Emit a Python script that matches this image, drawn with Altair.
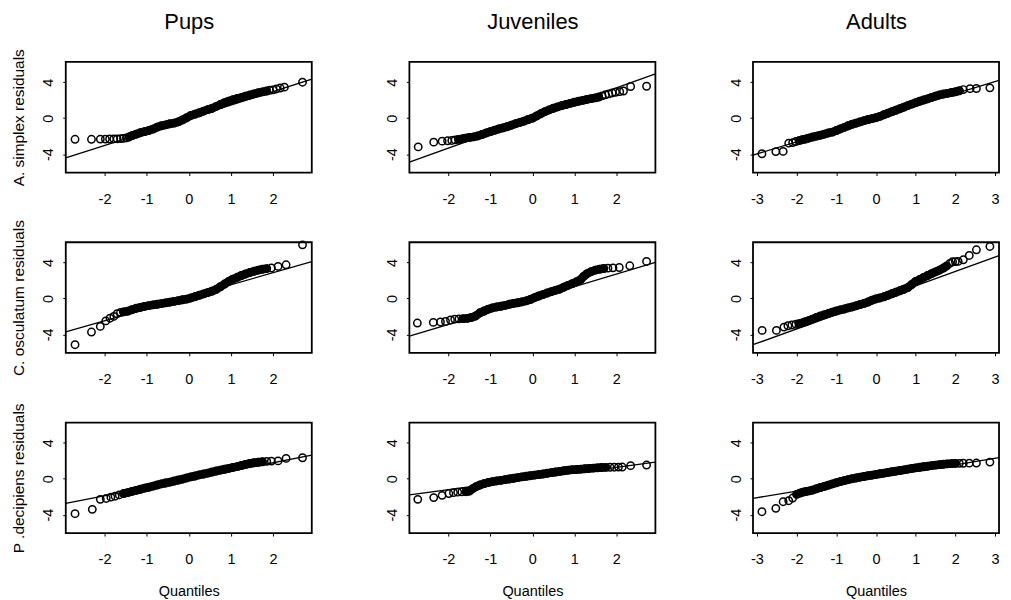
import altair as alt
import pandas as pd

# ---------------- data ----------------
groups = ["Pups", "Juveniles", "Adults"]
species_labels = ["A. simplex residuals", "C. osculatum residuals", "P .decipiens residuals"]

# theoretical quantile (q) and residual (r) pairs, one pair of lists per panel
pups_simplex_q = [-2.70, -2.31, -2.10, -1.98, -1.88, -1.78, -1.70, -1.62, -1.55, -1.48, -1.42, -1.35, -1.25, -1.15, -1.05, -0.95, -0.85, -0.75, -0.65, -0.55, -0.45, -0.35, -0.25, -0.15, -0.05, 0.05, 0.15, 0.25, 0.35, 0.45, 0.55, 0.65, 0.75, 0.85, 0.95, 1.05, 1.15, 1.25, 1.35, 1.45, 1.55, 1.65, 1.75, 1.85, 1.92, 2.00, 2.08, 2.17, 2.27, 2.70]
pups_simplex_r = [-2.35, -2.35, -2.33, -2.33, -2.32, -2.30, -2.30, -2.28, -2.25, -2.20, -2.10, -1.95, -1.78, -1.62, -1.50, -1.38, -1.22, -1.00, -0.85, -0.75, -0.63, -0.55, -0.42, -0.20, 0.05, 0.30, 0.45, 0.60, 0.78, 0.95, 1.08, 1.30, 1.52, 1.72, 1.90, 2.05, 2.18, 2.30, 2.45, 2.57, 2.70, 2.82, 2.92, 3.02, 3.10, 3.15, 3.25, 3.35, 3.45, 4.00]

juv_simplex_q = [-2.72, -2.35, -2.15, -2.02, -1.92, -1.84, -1.76, -1.68, -1.60, -1.50, -1.40, -1.30, -1.20, -1.10, -1.00, -0.90, -0.80, -0.70, -0.60, -0.50, -0.40, -0.30, -0.20, -0.10, 0.00, 0.10, 0.20, 0.30, 0.40, 0.50, 0.60, 0.70, 0.80, 0.90, 1.00, 1.10, 1.20, 1.30, 1.40, 1.50, 1.58, 1.66, 1.74, 1.82, 1.90, 1.98, 2.08, 2.17, 2.34, 2.72]
juv_simplex_r = [-3.20, -2.67, -2.56, -2.52, -2.48, -2.42, -2.36, -2.30, -2.22, -2.15, -2.08, -1.98, -1.82, -1.65, -1.50, -1.35, -1.20, -1.08, -0.95, -0.78, -0.62, -0.48, -0.33, -0.15, 0.00, 0.25, 0.50, 0.72, 0.92, 1.10, 1.25, 1.40, 1.52, 1.65, 1.77, 1.88, 1.98, 2.08, 2.17, 2.25, 2.35, 2.48, 2.60, 2.70, 2.80, 2.88, 2.95, 3.02, 3.52, 3.55]

adu_simplex_q = [-2.875, -2.525, -2.34, -2.20, -2.10, -2.02, -1.94, -1.86, -1.78, -1.70, -1.60, -1.50, -1.40, -1.30, -1.20, -1.10, -1.00, -0.90, -0.80, -0.70, -0.60, -0.50, -0.40, -0.30, -0.20, -0.10, 0.00, 0.10, 0.20, 0.30, 0.40, 0.50, 0.60, 0.70, 0.80, 0.90, 1.00, 1.10, 1.20, 1.30, 1.40, 1.50, 1.60, 1.70, 1.80, 1.90, 2.00, 2.10, 2.20, 2.37, 2.53, 2.87]
adu_simplex_r = [-3.96, -3.72, -3.70, -2.78, -2.72, -2.60, -2.50, -2.40, -2.33, -2.22, -2.10, -2.00, -1.90, -1.78, -1.65, -1.55, -1.38, -1.20, -1.02, -0.85, -0.68, -0.55, -0.42, -0.28, -0.15, -0.05, 0.05, 0.20, 0.38, 0.55, 0.72, 0.88, 1.05, 1.22, 1.40, 1.56, 1.72, 1.88, 2.02, 2.15, 2.30, 2.45, 2.58, 2.68, 2.76, 2.85, 2.93, 3.05, 3.18, 3.28, 3.30, 3.37]

pups_oscul_q = [-2.70, -2.31, -2.10, -1.97, -1.87, -1.78, -1.70, -1.62, -1.55, -1.45, -1.35, -1.25, -1.15, -1.05, -0.95, -0.85, -0.75, -0.65, -0.55, -0.45, -0.35, -0.25, -0.15, -0.05, 0.05, 0.15, 0.25, 0.35, 0.45, 0.55, 0.65, 0.75, 0.85, 0.95, 1.05, 1.15, 1.25, 1.35, 1.45, 1.55, 1.65, 1.75, 1.85, 1.96, 2.12, 2.31, 2.70]
pups_oscul_r = [-5.15, -3.74, -3.11, -2.50, -2.20, -2.00, -1.70, -1.55, -1.50, -1.42, -1.25, -1.10, -1.00, -0.88, -0.80, -0.72, -0.65, -0.58, -0.50, -0.42, -0.33, -0.25, -0.15, -0.08, 0.05, 0.20, 0.35, 0.50, 0.65, 0.80, 1.00, 1.30, 1.60, 1.90, 2.15, 2.35, 2.55, 2.72, 2.88, 3.02, 3.15, 3.25, 3.32, 3.38, 3.56, 3.74, 5.96]

juv_oscul_q = [-2.74, -2.36, -2.19, -2.07, -1.95, -1.85, -1.75, -1.65, -1.55, -1.45, -1.35, -1.25, -1.15, -1.05, -0.95, -0.85, -0.75, -0.65, -0.55, -0.45, -0.35, -0.25, -0.15, -0.05, 0.05, 0.15, 0.25, 0.35, 0.45, 0.55, 0.65, 0.75, 0.85, 0.95, 1.05, 1.15, 1.22, 1.30, 1.40, 1.50, 1.60, 1.70, 1.80, 1.92, 2.07, 2.32, 2.72]
juv_oscul_r = [-2.74, -2.67, -2.62, -2.56, -2.40, -2.30, -2.27, -2.25, -2.22, -2.12, -1.95, -1.60, -1.40, -1.20, -1.05, -0.95, -0.87, -0.77, -0.65, -0.56, -0.48, -0.38, -0.27, -0.12, 0.08, 0.27, 0.42, 0.60, 0.75, 0.90, 1.04, 1.25, 1.45, 1.65, 1.85, 2.10, 2.45, 2.75, 2.98, 3.15, 3.25, 3.33, 3.37, 3.40, 3.44, 3.63, 4.11]

adu_oscul_q = [-2.87, -2.51, -2.32, -2.22, -2.12, -2.02, -1.94, -1.86, -1.78, -1.70, -1.60, -1.50, -1.40, -1.30, -1.20, -1.10, -1.00, -0.90, -0.80, -0.70, -0.60, -0.50, -0.40, -0.30, -0.20, -0.10, 0.00, 0.10, 0.20, 0.30, 0.40, 0.50, 0.60, 0.70, 0.80, 0.90, 1.00, 1.10, 1.20, 1.30, 1.40, 1.50, 1.60, 1.70, 1.78, 1.86, 1.93, 2.00, 2.07, 2.20, 2.35, 2.53, 2.87]
adu_oscul_r = [-3.56, -3.56, -3.19, -3.04, -2.95, -2.88, -2.80, -2.72, -2.60, -2.48, -2.30, -2.12, -1.95, -1.82, -1.68, -1.52, -1.40, -1.28, -1.18, -1.05, -0.95, -0.82, -0.68, -0.55, -0.40, -0.20, -0.05, 0.05, 0.18, 0.35, 0.52, 0.68, 0.85, 1.02, 1.20, 1.55, 1.90, 2.10, 2.33, 2.55, 2.75, 2.95, 3.15, 3.38, 3.62, 3.90, 4.08, 4.10, 4.12, 4.30, 4.78, 5.41, 5.78]

pups_decip_q = [-2.70, -2.29, -2.10, -1.96, -1.85, -1.75, -1.65, -1.55, -1.45, -1.35, -1.25, -1.15, -1.05, -0.95, -0.85, -0.75, -0.65, -0.55, -0.45, -0.35, -0.25, -0.15, -0.05, 0.05, 0.15, 0.25, 0.35, 0.45, 0.55, 0.65, 0.75, 0.85, 0.95, 1.05, 1.15, 1.25, 1.35, 1.45, 1.55, 1.65, 1.75, 1.85, 1.96, 2.12, 2.31, 2.70]
pups_decip_r = [-3.89, -3.41, -2.30, -2.20, -2.05, -1.95, -1.80, -1.65, -1.55, -1.42, -1.30, -1.18, -1.05, -0.95, -0.83, -0.70, -0.58, -0.48, -0.38, -0.26, -0.15, -0.05, 0.08, 0.20, 0.30, 0.42, 0.52, 0.62, 0.74, 0.85, 0.95, 1.05, 1.15, 1.25, 1.35, 1.47, 1.60, 1.70, 1.77, 1.83, 1.88, 1.93, 1.96, 1.98, 2.26, 2.33]

juv_decip_q = [-2.73, -2.35, -2.15, -1.99, -1.88, -1.78, -1.68, -1.58, -1.50, -1.42, -1.34, -1.25, -1.15, -1.05, -0.95, -0.85, -0.75, -0.65, -0.55, -0.45, -0.35, -0.25, -0.15, -0.05, 0.05, 0.15, 0.25, 0.35, 0.45, 0.55, 0.65, 0.75, 0.85, 0.95, 1.05, 1.15, 1.25, 1.35, 1.45, 1.55, 1.65, 1.75, 1.85, 1.95, 2.05, 2.14, 2.34, 2.72]
juv_decip_r = [-2.30, -2.10, -1.85, -1.65, -1.55, -1.50, -1.47, -1.45, -1.38, -1.10, -0.88, -0.70, -0.55, -0.42, -0.33, -0.25, -0.18, -0.10, -0.03, 0.05, 0.12, 0.20, 0.27, 0.33, 0.40, 0.46, 0.52, 0.60, 0.67, 0.74, 0.81, 0.88, 0.95, 1.00, 1.02, 1.06, 1.10, 1.14, 1.18, 1.21, 1.24, 1.26, 1.27, 1.28, 1.29, 1.30, 1.45, 1.52]

adu_decip_q = [-2.875, -2.525, -2.34, -2.20, -2.10, -2.00, -1.92, -1.84, -1.76, -1.68, -1.60, -1.50, -1.40, -1.30, -1.20, -1.10, -1.00, -0.90, -0.80, -0.70, -0.60, -0.50, -0.40, -0.30, -0.20, -0.10, 0.00, 0.10, 0.20, 0.30, 0.40, 0.50, 0.60, 0.70, 0.80, 0.90, 1.00, 1.10, 1.20, 1.30, 1.40, 1.50, 1.60, 1.70, 1.80, 1.90, 2.00, 2.10, 2.20, 2.35, 2.53, 2.87]
adu_decip_r = [-3.67, -3.30, -2.56, -2.45, -2.15, -1.75, -1.60, -1.50, -1.42, -1.36, -1.27, -1.12, -0.98, -0.85, -0.72, -0.58, -0.45, -0.33, -0.22, -0.10, 0.00, 0.08, 0.17, 0.25, 0.33, 0.40, 0.48, 0.55, 0.62, 0.70, 0.77, 0.84, 0.91, 0.98, 1.06, 1.14, 1.21, 1.27, 1.33, 1.39, 1.45, 1.51, 1.56, 1.61, 1.65, 1.68, 1.70, 1.71, 1.72, 1.73, 1.74, 1.85]

# quantile range where the many overlapping points merge into a solid band
dense_ranges = [[[-1.45, 1.85], [-1.80, 1.60], [-2.00, 2.15]],
                [[-1.60, 1.85], [-1.70, 1.70], [-1.95, 1.80]],
                [[-1.55, 1.80], [-1.60, 1.80], [-2.00, 2.05]]]

# qqline intercepts and slopes, rows = species, columns = age groups
line_intercepts = [[-0.05, 0.02, 0.05], [0.18, -0.10, -0.19], [-0.07, 0.02, 0.08]]
line_slopes = [[1.50, 1.675, 1.34], [1.34, 1.40, 1.60], [0.92, 0.625, 0.73]]

panels_q = [[pups_simplex_q, juv_simplex_q, adu_simplex_q],
            [pups_oscul_q, juv_oscul_q, adu_oscul_q],
            [pups_decip_q, juv_decip_q, adu_decip_q]]
panels_r = [[pups_simplex_r, juv_simplex_r, adu_simplex_r],
            [pups_oscul_r, juv_oscul_r, adu_oscul_r],
            [pups_decip_r, juv_decip_r, adu_decip_r]]

x_ticks = [[-2, -1, 0, 1, 2], [-2, -1, 0, 1, 2], [-3, -2, -1, 0, 1, 2, 3]]
x_domains = [[-2.92, 2.92], [-2.93, 2.93], [-3.1, 3.1]]
y_domain = [-6.05, 6.25]
y_ticks = [-4, -2, 0, 2, 4, 6]

FONT = "Liberation Sans"
W, H = 247, 111


def panel(row, col):
    df = pd.DataFrame({"q": panels_q[row][col], "r": panels_r[row][col]})
    xd = x_domains[col]
    a, b = line_intercepts[row][col], line_slopes[row][col]
    ldf = pd.DataFrame({"q": xd, "r": [a + b * v for v in xd]})
    xscale = alt.Scale(domain=xd, nice=False, zero=False)

    xaxis_kw = dict(values=x_ticks[col], grid=False, domain=False, tickSize=3,
                    tickColor="black", labelFontSize=14.5, labelColor="black",
                    labelFont=FONT, labelBaseline="alphabetic", labelPadding=28,
                    labelFlush=False, labelExpr="'' + datum.value")
    if row == 2:
        xaxis_kw.update(title="Quantiles", titleFont=FONT, titleFontSize=14.5,
                        titleFontWeight="normal", titleColor="black",
                        titleBaseline="alphabetic", titleY=62.5)
    else:
        xaxis_kw.update(title=None)
    yaxis_kw = dict(values=y_ticks, grid=False, domain=False, tickSize=3,
                    tickColor="black", labelFontSize=14.5, labelColor="black",
                    labelFont=FONT, labelAngle=270, labelAlign="center",
                    labelBaseline="alphabetic", labelPadding=10,
                    labelExpr="datum.value % 4 == 0 ? '' + datum.value : ''")
    if col == 0:
        yaxis_kw.update(title=species_labels[row], titleFont=FONT, titleFontSize=15.5,
                        titleFontWeight="normal", titleColor="black",
                        titleBaseline="alphabetic", titleX=-42)
    else:
        yaxis_kw.update(title=None)

    x = alt.X("q:Q", scale=xscale, axis=alt.Axis(**xaxis_kw))
    if row == 0:
        # row 1 has independent axes (extra title axis on top): hide the duplicates
        x_other = alt.X("q:Q", scale=xscale, axis=None)
    else:
        x_other = alt.X("q:Q", scale=xscale)
    y = alt.Y("r:Q", scale=alt.Scale(domain=y_domain, nice=False, zero=False), axis=alt.Axis(**yaxis_kw))

    lo, hi = dense_ranges[row][col]
    band = alt.Chart(df).transform_filter(
        alt.FieldRangePredicate(field="q", range=[lo, hi])
    ).mark_line(color="black", strokeWidth=8.5, strokeCap="round", strokeJoin="round").encode(
        x=x_other, y="r:Q", order="q:Q")
    pts = alt.Chart(df).mark_point(shape="circle", filled=False, size=55,
                                   stroke="black", strokeWidth=1.5, opacity=1).encode(x=x, y=y)
    ln = alt.Chart(ldf).mark_line(color="black", strokeWidth=1.3).encode(x=x_other, y="r:Q")
    layers = [ln, band, pts]
    if row == 0:
        # group name shown as a title-only axis above the panel
        top = alt.Chart(ldf).mark_line(opacity=0).encode(
            x=alt.X("q:Q", scale=xscale,
                    axis=alt.Axis(orient="top", title=groups[col], labels=False,
                                  ticks=False, domain=False, grid=False,
                                  titleFont=FONT, titleFontSize=22,
                                  titleFontWeight="normal", titleColor="black",
                                  titleBaseline="alphabetic", titlePadding=33.5)),
            y="r:Q")
        layers.append(top)
    ch = alt.layer(*layers).properties(
        width=W, height=H, view=alt.ViewBackground(stroke="black", strokeWidth=1.8, fill="white"))
    if row == 0:
        ch = ch.resolve_axis(x="independent")
    return ch


panels = [panel(r, c) for r in range(3) for c in range(3)]
chart = alt.concat(*panels, columns=3, spacing={"row": 70, "column": 98}, bounds="flush").properties(
    padding={"left": 3, "top": 0, "right": 0, "bottom": 0}
).configure(background="white").configure_view(stroke="black", strokeWidth=1.8)

chart.save("out.html", embed_options={"renderer": "svg", "actions": False})
